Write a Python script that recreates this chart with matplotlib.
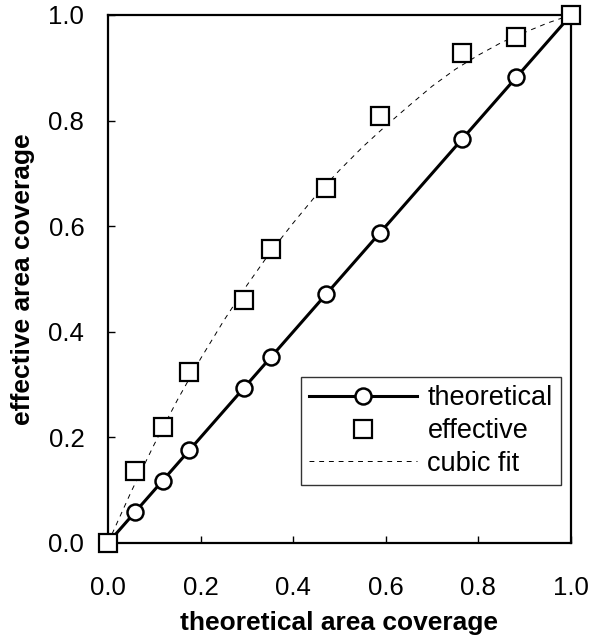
import matplotlib
matplotlib.use("Agg")
import matplotlib.pyplot as plt

# measured points: theoretical vs effective area coverage
theoretical = [0.0, 0.059, 0.118, 0.176, 0.294, 0.353, 0.471, 0.588, 0.765, 0.882, 1.0]
effective = [0.0, 0.136, 0.220, 0.324, 0.460, 0.557, 0.672, 0.809, 0.928, 0.958, 1.0]

# cubic fit curve
fit_x = [0.0, 0.05, 0.1, 0.15, 0.2, 0.25, 0.3, 0.35, 0.4, 0.45, 0.5,
         0.55, 0.6, 0.65, 0.7, 0.75, 0.8, 0.85, 0.9, 0.95, 1.0]
fit_y = [0.0, 0.097, 0.187, 0.271, 0.349, 0.421, 0.488, 0.550, 0.606, 0.659, 0.706,
         0.750, 0.790, 0.828, 0.865, 0.897, 0.924, 0.948, 0.967, 0.985, 1.0]

ticks = [0.0, 0.2, 0.4, 0.6, 0.8, 1.0]

plt.rcParams["font.family"] = ["Liberation Sans", "DejaVu Sans"]

fig = plt.figure(figsize=(5.92, 6.35), dpi=100)
ax = fig.add_axes([0.1824, 0.1449, 0.7821, 0.8315])

ax.plot(fit_x, fit_y, linestyle=(0, (5, 5)), color="black", linewidth=0.7,
        label="cubic fit", zorder=2)
ax.plot(theoretical, theoretical, "-o", color="black", linewidth=2.2,
        markersize=11.5, markerfacecolor="white", markeredgewidth=1.8,
        label="theoretical", zorder=3, clip_on=False)
ax.plot(theoretical, effective, "s", color="black", markersize=12.5,
        markerfacecolor="white", markeredgewidth=1.6, label="effective",
        zorder=4, clip_on=False)

ax.set_xlim(0, 1)
ax.set_ylim(0, 1)
ax.set_xticks(ticks)
ax.set_yticks(ticks)
ax.set_xticklabels([f"{t:.1f}" for t in ticks])
ax.set_yticklabels([f"{t:.1f}" for t in ticks])
ax.tick_params(direction="in", length=5, width=1, labelsize=18.5)
ax.tick_params(axis="x", pad=24)
ax.tick_params(axis="y", pad=17)
for sp in ax.spines.values():
    sp.set_linewidth(1.6)

ax.set_xlabel("theoretical area coverage", fontsize=19, fontweight="bold")
ax.set_ylabel("effective area coverage", fontsize=19, fontweight="bold")
ax.xaxis.set_label_coords(0.5, -0.128)
ax.yaxis.set_label_coords(-0.158, 0.5)

handles, labels = ax.get_legend_handles_labels()
order = [1, 2, 0]
leg = ax.legend([handles[i] for i in order], [labels[i] for i in order],
                loc="lower right", bbox_to_anchor=(0.978, 0.110), fontsize=19.5,
                frameon=True, fancybox=False, handlelength=4.0, handletextpad=0.37,
                borderpad=0.3, labelspacing=0.25, borderaxespad=0)
leg.get_frame().set_edgecolor("black")
leg.get_frame().set_linewidth(1.0)

fig.savefig("out.png", dpi=100)
